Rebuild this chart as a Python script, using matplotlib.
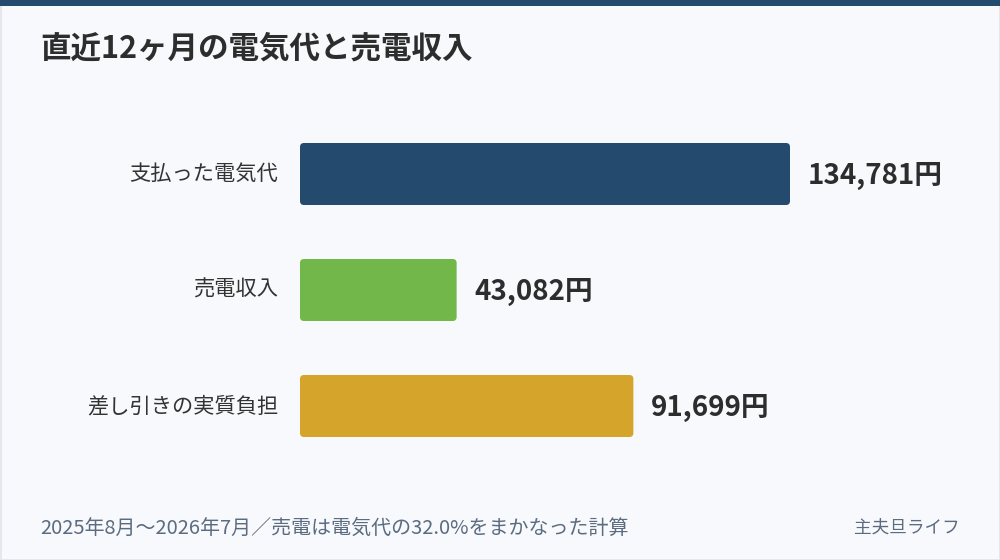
import matplotlib
matplotlib.use("Agg")
import matplotlib.pyplot as plt
from matplotlib.patches import FancyBboxPatch, Rectangle

plt.rcParams['font.family'] = ['Noto Sans CJK JP', 'DejaVu Sans']

TITLE = "直近12ヶ月の電気代と売電収入"
CATEGORIES = ["支払った電気代", "売電収入", "差し引きの実質負担"]
VALUES = [134781, 43082, 91699]
COLORS = ["#244a6e", "#72b74a", "#d4a52a"]
FOOTNOTE = "2025年8月〜2026年7月／売電は電気代の32.0%をまかなった計算"
CREDIT = "主夫旦ライフ"

W, H = 1000, 560
fig = plt.figure(figsize=(W / 100, H / 100), dpi=100)
fig.patch.set_facecolor("#f7f9fc")

# frame + top stripe
fig.patches.append(Rectangle((0.5 / W, 0.5 / H), 1 - 1 / W, 1 - 1 / H, transform=fig.transFigure,
                             fill=False, edgecolor="#dfe5ec", linewidth=1.2))
fig.patches.append(Rectangle((0, 1 - 6 / H), 1, 6 / H, transform=fig.transFigure,
                             facecolor="#244a6e", edgecolor="none"))

# plot area: x 300..790 px for max value, y 143..437 px
left, right, top, bottom = 300, 790, 143, 437
ax = fig.add_axes([left / W, (H - bottom) / H, (right - left) / W, (bottom - top) / H])
ax.set_facecolor("none")
bar_h = 62 / 116
ax.set_xlim(0, max(VALUES))
ax.set_ylim(len(VALUES) - 1 + bar_h / 2, -bar_h / 2)
ax.axis("off")

xpp = max(VALUES) / (right - left)   # data units per pixel, x
ypp = 1 / 116                        # data units per pixel, y
for i, (v, c) in enumerate(zip(VALUES, COLORS)):
    box = FancyBboxPatch((0, i - bar_h / 2), v, bar_h,
                         boxstyle=f"round,pad=0,rounding_size={4 * xpp}",
                         mutation_aspect=ypp / xpp,
                         facecolor=c, edgecolor="none")
    ax.add_patch(box)
    ax.text(v + 18 * xpp, i + 1.5 * ypp, f"{v:,}円", ha="left", va="center", fontsize=20,
            fontweight="bold", color="#2d2d2d")
    ax.text(-22 * xpp, i, CATEGORIES[i], ha="right", va="center", fontsize=15.3,
            color="#333333")

fig.text(40 / W, 1 - 49 / H, TITLE, ha="left", va="center", fontsize=22,
         fontweight="bold", color="#2d2d2d")
fig.text(40 / W, 1 - 528 / H, FOOTNOTE, ha="left", va="center", fontsize=14.4,
         color="#5b6b80")
fig.text(960 / W, 1 - 528 / H, CREDIT, ha="right", va="center", fontsize=12.7,
         color="#5b6b80")

fig.savefig("out.png", dpi=100, facecolor=fig.get_facecolor())
